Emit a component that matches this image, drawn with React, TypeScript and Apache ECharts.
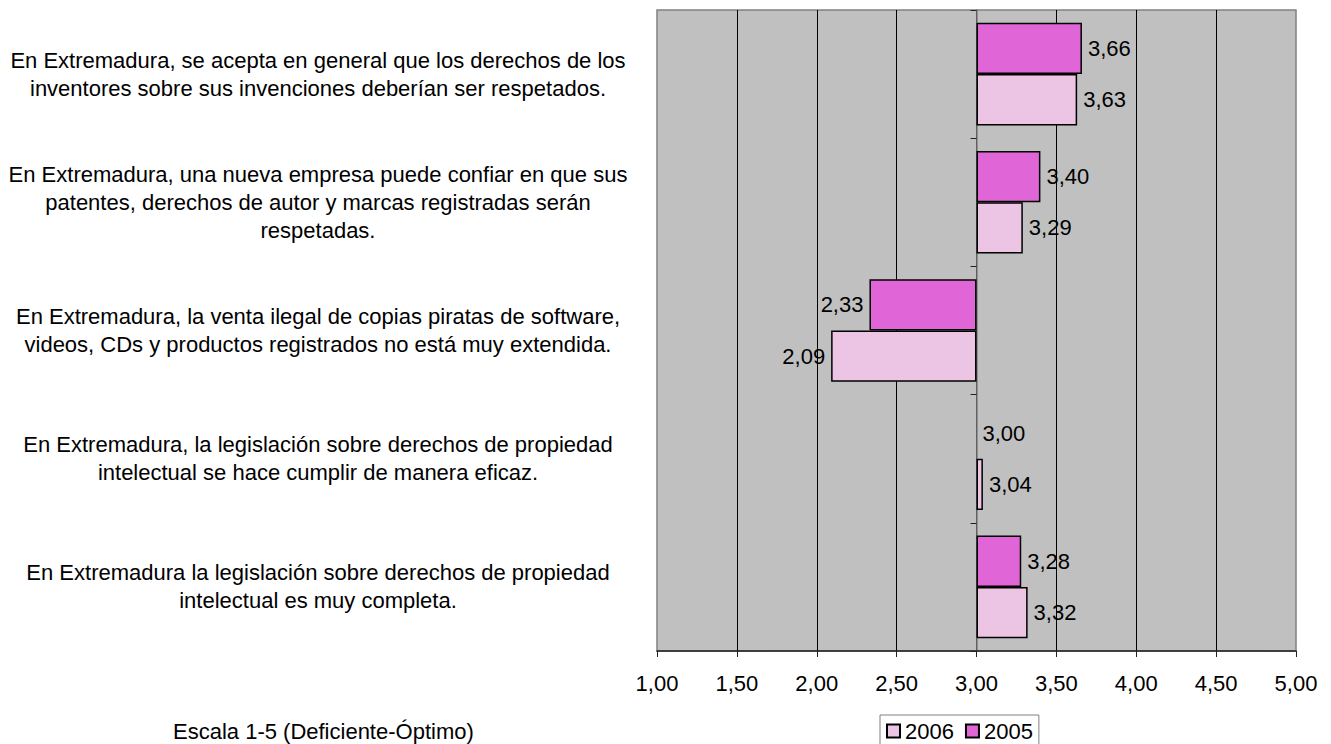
import React, { useEffect, useRef } from "react";
import * as echarts from "echarts";

const categories: string[] = [
  "En Extremadura, se acepta en general que los derechos de los\ninventores sobre sus invenciones deberían ser respetados.",
  "En Extremadura, una nueva empresa puede confiar en que sus\npatentes, derechos de autor y marcas registradas serán\nrespetadas.",
  "En Extremadura, la venta ilegal de copias piratas de software,\nvideos, CDs y productos registrados no está muy extendida.",
  "En Extremadura, la legislación sobre derechos de propiedad\nintelectual se hace cumplir de manera eficaz.",
  "En Extremadura la legislación sobre derechos de propiedad\nintelectual es muy completa.",
];

const values2005: number[] = [3.66, 3.4, 2.33, 3.0, 3.28];
const values2006: number[] = [3.63, 3.29, 2.09, 3.04, 3.32];

const baseline = 3;
const axisMin = 1;
const axisMax = 5;
const axisInterval = 0.5;
const scaleNote = "Escala 1-5 (Deficiente-Óptimo)";

const FONT = "'Liberation Sans', Arial, sans-serif";
const fmt = (v: number) => v.toFixed(2).replace(".", ",");

function makeSeries(name: string, vals: number[], color: string, stack: string) {
  const base = {
    name: name + "_base",
    type: "bar",
    stack,
    silent: true,
    barGap: "0%",
    barCategoryGap: "20%",
    itemStyle: { color: "transparent", borderWidth: 0 },
    label: { show: false },
    emphasis: { disabled: true },
    data: vals.map((v) => Math.min(v, baseline)),
  };
  const main = {
    name,
    type: "bar",
    stack,
    barGap: "0%",
    barCategoryGap: "20%",
    itemStyle: { color, borderColor: "#000", borderWidth: 1.5 },
    label: {
      show: true,
      distance: 6,
      color: "#000",
      fontSize: 22,
      fontFamily: FONT,
      formatter: (p: any) => fmt(vals[p.dataIndex]),
    },
    data: vals.map((v) => {
      const d = Math.abs(v - baseline);
      const item: any = {
        value: d,
        label: { position: v < baseline ? "left" : "right" },
      };
      if (d < 1e-9) item.itemStyle = { borderWidth: 0, color: "transparent" };
      return item;
    }),
  };
  return [base, main];
}

export default function App() {
  const ref = useRef<HTMLDivElement>(null);
  useEffect(() => {
    if (!ref.current) return;
    const chart = echarts.init(ref.current, null, { renderer: "svg" });
    const gridLeft = 657;
    const gridRight = 1296;
    const baseX = gridLeft + ((baseline - axisMin) / (axisMax - axisMin)) * (gridRight - gridLeft);
    chart.setOption({
      animation: false,
      backgroundColor: "#fff",
      textStyle: { fontFamily: FONT },
      grid: {
        left: gridLeft,
        right: 1331 - gridRight,
        top: 10,
        bottom: 744 - 651,
        show: true,
        backgroundColor: "#C0C0C0",
        borderColor: "#808080",
        borderWidth: 1.5,
      },
      legend: {
        data: ["2006", "2005"],
        left: 880,
        top: 715,
        padding: [5, 6, 8, 6],
        itemWidth: 13,
        itemHeight: 13,
        itemGap: 11,
        icon: "rect",
        borderColor: "#808080",
        borderWidth: 1,
        backgroundColor: "#fff",
        textStyle: { fontSize: 22, color: "#000", fontFamily: FONT },
      },
      xAxis: {
        type: "value",
        min: axisMin,
        max: axisMax,
        interval: axisInterval,
        axisLine: { show: true, lineStyle: { color: "#222", width: 1.5 } },
        axisTick: { show: true, length: 6, lineStyle: { color: "#222" } },
        axisLabel: {
          margin: 21,
          color: "#000",
          fontSize: 22,
          fontFamily: FONT,
          formatter: (v: number) => fmt(v),
        },
        splitLine: {
          show: true,
          showMinLine: false,
          showMaxLine: false,
          lineStyle: { color: "#000", width: 1 },
        },
      },
      yAxis: {
        type: "category",
        inverse: true,
        data: categories,
        offset: -(baseX - gridLeft),
        axisLine: { show: true, lineStyle: { color: "#808080", width: 1.5 } },
        axisTick: { show: true, length: 6, lineStyle: { color: "#222" } },
        axisLabel: {
          interval: 0,
          margin: baseX - 318,
          align: "center",
          color: "#000",
          fontSize: 22,
          lineHeight: 28,
          padding: [12, 0, 0, 0],
          fontFamily: FONT,
        },
      },
      series: [
        ...makeSeries("2005", values2005, "#E066D8", "s2005"),
        ...makeSeries("2006", values2006, "#ECC4E4", "s2006"),
      ],
      graphic: [
        {
          type: "text",
          left: 173,
          top: 720,
          style: { text: scaleNote, font: `22px ${FONT}`, fill: "#000" },
        },
      ],
    });
    return () => chart.dispose();
  }, []);
  return (
    <div
      ref={ref}
      style={{ position: "fixed", left: 0, top: 0, width: 1331, height: 744 }}
    />
  );
}
